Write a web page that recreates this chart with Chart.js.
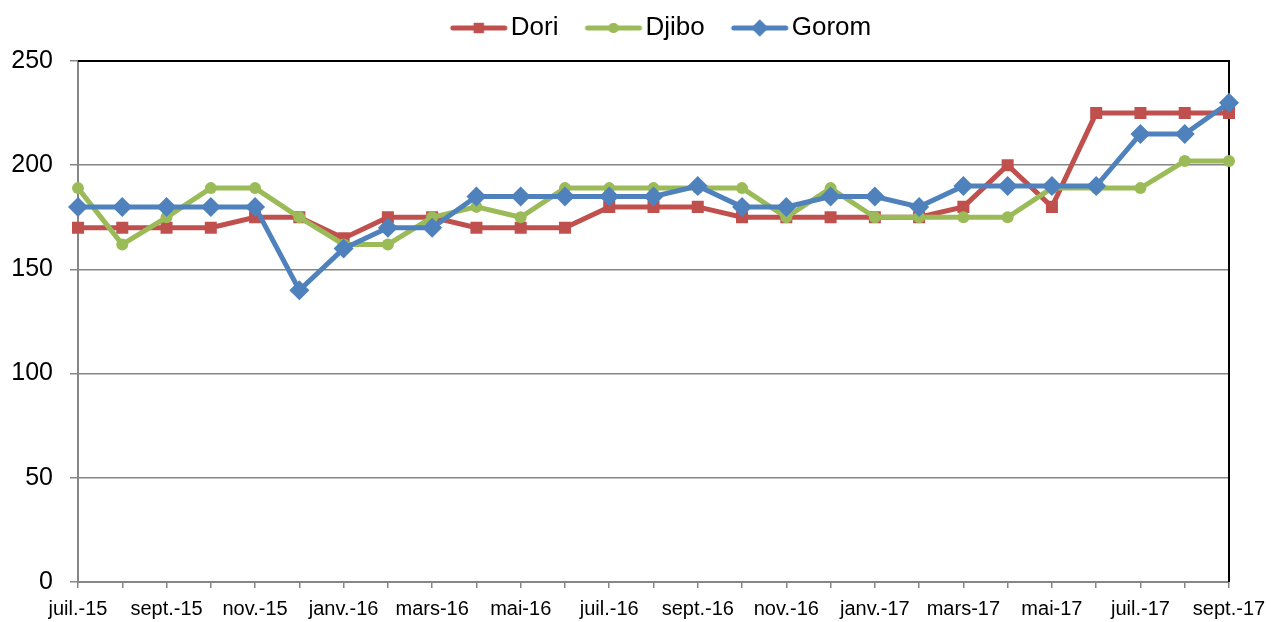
<!DOCTYPE html>
<html>
<head>
<meta charset="utf-8">
<script src="https://cdn.jsdelivr.net/npm/chart.js@4/dist/chart.umd.min.js"></script>
<style>
  html, body { margin: 0; padding: 0; background: #fff; }
  #wrap { width: 1271px; height: 622px; }
</style>
</head>
<body>
<div id="wrap"><canvas id="chart" width="1271" height="622"></canvas></div>
<script>
// monthly prices, juil.-15 .. sept.-17
const months = ['juil.-15','août-15','sept.-15','oct.-15','nov.-15','déc.-15','janv.-16','févr.-16','mars-16','avr.-16','mai-16','juin-16','juil.-16','août-16','sept.-16','oct.-16','nov.-16','déc.-16','janv.-17','févr.-17','mars-17','avr.-17','mai-17','juin-17','juil.-17','août-17','sept.-17'];
const dori  = [170,170,170,170,175,175,165,175,175,170,170,170,180,180,180,175,175,175,175,175,180,200,180,225,225,225,225];
const djibo = [189,162,175,189,189,175,162,162,175,180,175,189,189,189,189,189,175,189,175,175,175,175,189,189,189,202,202];
const gorom = [180,180,180,180,180,140,160,170,170,185,185,185,185,185,190,180,180,185,185,180,190,190,190,190,215,215,230];
const yTicks = [0, 50, 100, 150, 200, 250];

const RED = '#C0504D', GREEN = '#9BBB59', BLUE = '#4F81BD', GRID = '#868686';
const FONT = '"Liberation Sans", Arial, sans-serif';

// line + marker image for the legend (Excel style)
function legendIcon(color, style, r) {
  const c = document.createElement('canvas');
  c.width = 84; c.height = 24;
  const g = c.getContext('2d');
  g.strokeStyle = color; g.fillStyle = color; g.lineWidth = 5; g.lineCap = 'round';
  g.beginPath(); g.moveTo(28, 12); g.lineTo(80, 12); g.stroke();
  Chart.helpers.drawPoint(g, { pointStyle: style, radius: r, rotation: 0, borderWidth: 0 }, 54, 12);
  g.fill();
  return c;
}

const plotBorder = {
  id: 'plotBorder',
  afterLayout(chart) {
    // legend sits a bit higher than chart.js puts it
    const l = chart.legend;
    if (l) { l.top -= 10; l.bottom -= 10; }
  },
  beforeDatasetsDraw(chart) {
    const { ctx, chartArea: a } = chart;
    ctx.save();
    ctx.strokeStyle = '#000'; ctx.lineWidth = 2;
    ctx.beginPath();
    ctx.moveTo(a.left, a.top); ctx.lineTo(a.right, a.top); ctx.lineTo(a.right, a.bottom);
    ctx.stroke();
    ctx.restore();
  }
};

const series = [
  { label: 'Dori',  data: dori,  color: RED,   style: 'rect',    r: 8.5, order: 3 },
  { label: 'Djibo', data: djibo, color: GREEN, style: 'circle',  r: 6,   order: 2 },
  { label: 'Gorom', data: gorom, color: BLUE,  style: 'rectRot', r: 10,  order: 1 }
];

new Chart(document.getElementById('chart'), {
  type: 'line',
  data: {
    labels: months,
    datasets: series.map(s => ({
      label: s.label,
      data: s.data,
      order: s.order,
      borderColor: s.color,
      backgroundColor: s.color,
      borderWidth: 5,
      pointStyle: s.style,
      pointRadius: s.r,
      pointBorderWidth: 0,
      pointBackgroundColor: s.color,
      tension: 0,
      fill: false
    }))
  },
  options: {
    responsive: false,
    animation: false,
    layout: { padding: 0 },
    plugins: {
      tooltip: { enabled: false },
      legend: {
        position: 'top',
        fullSize: false,
        labels: {
          usePointStyle: true,
          pointStyleWidth: 62,
          padding: 12,
          color: '#000',
          font: { family: FONT, size: 26 },
          generateLabels(chart) {
            return series.map((s, i) => ({
              text: s.label,
              datasetIndex: i,
              fillStyle: s.color,
              strokeStyle: s.color,
              lineWidth: 0,
              fontColor: '#000',
              pointStyle: legendIcon(s.color, s.style, s.r * 0.85)
            }));
          }
        }
      }
    },
    scales: {
      x: {
        offset: false,
        grid: { drawOnChartArea: false, drawTicks: true, tickLength: 6, color: GRID, lineWidth: 1.5 },
        border: { color: GRID, width: 2 },
        ticks: {
          autoSkip: false,
          maxRotation: 0,
          padding: 9,
          color: '#000',
          font: { family: FONT, size: 20 },
          callback: (v, i) => (i % 2 === 0 ? months[i] : '')
        },
        afterFit: s => { s.height = 40; s.paddingRight = 42; s.paddingLeft = 0; }
      },
      y: {
        min: 0,
        max: 250,
        afterBuildTicks: s => { s.ticks = yTicks.map(v => ({ value: v })); },
        grid: { color: GRID, lineWidth: 1.5, tickLength: 8 },
        border: { color: GRID, width: 2 },
        ticks: { padding: 17, color: '#000', font: { family: FONT, size: 25 } },
        afterFit: s => { s.width = 78; s.paddingTop = 61; }
      }
    }
  },
  plugins: [plotBorder]
});
</script>
</body>
</html>
